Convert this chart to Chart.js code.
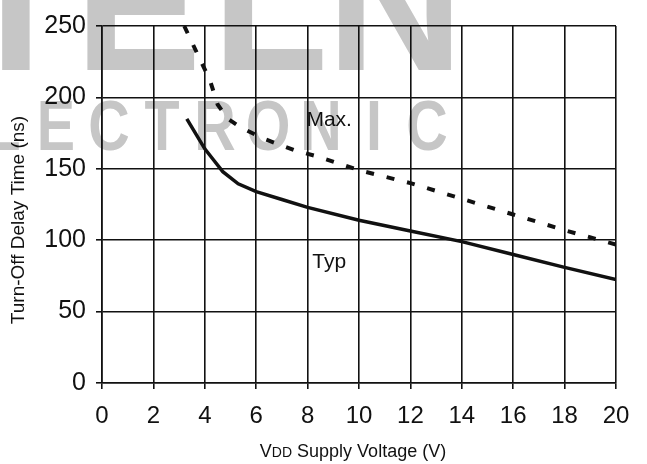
<!DOCTYPE html>
<html>
<head>
<meta charset="utf-8">
<title>Turn-Off Delay Time vs VDD</title>
<script src="https://cdn.jsdelivr.net/npm/chart.js@4"></script>
<style>
  html, body { margin: 0; padding: 0; background: #fff; }
  #wrap { width: 647px; height: 464px; }
</style>
</head>
<body>
<div id="wrap"><canvas id="grafico" width="647" height="464"></canvas></div>
<script>
// Datos
const typX = [3.3, 4, 4.35, 4.7, 5.3, 6, 7, 8, 10, 12, 14, 16, 18, 20];
const typY = [185, 164, 156, 148, 139.5, 134, 128.5, 123, 114, 106.5, 99, 90, 81, 72.5];
const maxX = [3.2, 3.75, 4.2, 4.5, 4.9, 5.4, 6.3, 7.5, 8.5, 10, 12, 14, 16, 18, 20];
const maxY = [250, 229, 212, 195, 185, 179, 171, 163, 158, 149, 140, 129, 118, 107, 97];
const xTicks = [0, 2, 4, 6, 8, 10, 12, 14, 16, 18, 20];
const yTicks = [0, 50, 100, 150, 200, 250];
const curveNames = ['Max.', 'Typ'];
const curveLabelAt = [[8.84, 184], [8.84, 84.6]];
const xTitleParts = ['V', 'DD', ' Supply Voltage (V)'];
const yTitle = 'Turn-Off Delay Time (ns)';
const watermarkTop = ['I', 'E', 'L', 'N'];
const watermarkRow = 'LECTRONIC';

(function(){
  'use strict';
  const FONT = "'Liberation Sans', Arial, sans-serif";
  const INK = '#111';

  const toPts = (xs, ys) => xs.map((x, i) => ({ x: x, y: ys[i] }));

  // Marca de agua gris de fondo
  const fondo = {
    id: 'fondo',
    beforeDraw(chart) {
      const c = chart.ctx;
      c.save();
      c.fillStyle = '#fff';
      c.fillRect(0, 0, chart.width, chart.height);
      c.fillStyle = '#c6c6c6';
      c.textAlign = 'center';
      c.textBaseline = 'alphabetic';
      c.font = 'bold 190px ' + FONT;
      const topCenters = [16, 138, 270, 395];
      watermarkTop.forEach((ch, i) => c.fillText(ch, topCenters[i], 70));
      c.font = 'bold 70px ' + FONT;
      for (let i = 0; i < watermarkRow.length; i++) {
        c.save();
        c.translate(3 + i * 53, 150);
        c.scale(0.82, 1);
        c.fillText(watermarkRow[i], 0, 0);
        c.restore();
      }
      c.restore();
    }
  };

  // Textos: etiquetas de curvas y títulos de ejes
  const textos = {
    id: 'textos',
    afterDraw(chart) {
      const c = chart.ctx;
      const sx = chart.scales.x, sy = chart.scales.y;
      c.save();
      c.fillStyle = INK;
      c.textAlign = 'center';
      c.textBaseline = 'middle';
      c.font = '21px ' + FONT;
      curveNames.forEach((t, i) => {
        c.fillText(t, sx.getPixelForValue(curveLabelAt[i][0]), sy.getPixelForValue(curveLabelAt[i][1]));
      });

      // Título eje X con "DD" en versalitas
      const big = '18px ' + FONT, small = '14px ' + FONT;
      c.textAlign = 'left';
      c.textBaseline = 'alphabetic';
      const fonts = [big, small, big];
      let total = 0;
      const widths = xTitleParts.map((p, i) => { c.font = fonts[i]; const w = c.measureText(p).width; total += w; return w; });
      let x = 353 - total / 2;
      xTitleParts.forEach((p, i) => { c.font = fonts[i]; c.fillText(p, x, 457); x += widths[i]; });

      // Título eje Y
      c.translate(19, 220);
      c.rotate(-Math.PI / 2);
      c.textAlign = 'center';
      c.textBaseline = 'middle';
      c.font = '19px ' + FONT;
      c.fillText(yTitle, 0, 0);
      c.restore();
    }
  };

  const ctx = document.getElementById('grafico');
  new Chart(ctx, {
    type: 'line',
    data: {
      datasets: [{
        label: 'Max.',
        data: toPts(maxX, maxY),
        borderColor: INK,
        borderWidth: 4,
        borderDash: [8, 13],
        pointRadius: 0,
        tension: 0,
        fill: false
      }, {
        label: 'Typ',
        data: toPts(typX, typY),
        borderColor: INK,
        borderWidth: 3.5,
        pointRadius: 0,
        tension: 0,
        fill: false
      }]
    },
    options: {
      responsive: false,
      animation: false,
      layout: { padding: { left: 0, right: 31, top: 26, bottom: 0 } },
      plugins: { legend: { display: false }, tooltip: { enabled: false } },
      scales: {
        x: {
          type: 'linear',
          min: 0, max: 20,
          afterBuildTicks: (s) => { s.ticks = xTicks.map(v => ({ value: v })); },
          afterFit: (s) => { s.height = 81; },
          grid: { color: INK, lineWidth: 1.6, tickLength: 6 },
          border: { color: INK, width: 1.6 },
          ticks: { color: INK, font: { family: FONT, size: 24 }, padding: 13, maxRotation: 0 }
        },
        y: {
          type: 'linear',
          min: 0, max: 250,
          afterBuildTicks: (s) => { s.ticks = yTicks.map(v => ({ value: v })); },
          afterFit: (s) => { s.width = 102; },
          grid: { color: INK, lineWidth: 1.6, tickLength: 6 },
          border: { color: INK, width: 1.6 },
          ticks: { color: INK, font: { family: FONT, size: 25 }, padding: 10 }
        }
      }
    },
    plugins: [fondo, textos]
  });
})();
</script>
</body>
</html>
